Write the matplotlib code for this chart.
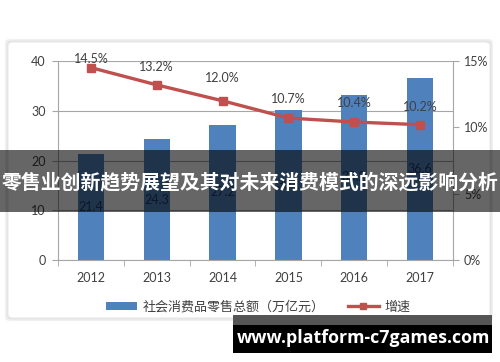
import matplotlib
matplotlib.use("Agg")
import matplotlib.pyplot as plt
from matplotlib.patches import FancyBboxPatch, Rectangle
from matplotlib.lines import Line2D
from matplotlib.ticker import FuncFormatter, FixedLocator

years = ["2012", "2013", "2014", "2015", "2016", "2017"]
sales = [21.4, 24.3, 27.2, 30.1, 33.2, 36.6]
growth = [14.5, 13.2, 12.0, 10.7, 10.4, 10.2]
bar_label = "社会消费品零售总额（万亿元）"
line_label = "增速"
banner = "零售业创新趋势展望及其对未来消费模式的深远影响分析"
watermark = "www.platform-c7games.com"

plt.rcParams['font.family'] = ['Lato', 'Noto Sans CJK SC', 'DejaVu Sans']

W, H = 500, 362
fig = plt.figure(figsize=(5, 3.62), dpi=100)
fig.patch.set_facecolor('white')

def fx(px):
    return px / W

def fy(py):
    return 1 - py / H

# card with soft shadow
for c, d in [('#f0f0f0', 3), ('#e6e6e6', 1.5)]:
    fig.patches.append(FancyBboxPatch((fx(8 - d), fy(318 + d)), fx(482 + 2 * d), (276 + 2 * d) / H,
                                      boxstyle="round,pad=0,rounding_size=0.01",
                                      transform=fig.transFigure, facecolor=c,
                                      edgecolor='none', zorder=0))
fig.patches.append(FancyBboxPatch((fx(8), fy(318)), fx(482), 276 / H,
                                  boxstyle="round,pad=0,rounding_size=0.01",
                                  transform=fig.transFigure, facecolor='white',
                                  edgecolor='#e4e4e4', linewidth=0.6, zorder=0.5))

ax = fig.add_axes([fx(58), fy(260), fx(453 - 58), (260 - 61) / H])
ax.set_facecolor('none')
ax.set_zorder(2)
x = list(range(len(years)))
ax.bar(x, sales, width=0.4, color='#4F81BD', zorder=2)
ax.set_xlim(-0.5, len(years) - 0.5)
ax.set_ylim(0, 40)
ax.set_yticks([0, 10, 20, 30, 40])
ax.yaxis.grid(True, color='#a6a6a6', linewidth=0.8, zorder=0)
ax.set_axisbelow(True)
ax.set_xticks(x)
ax.set_xticklabels(years)
ax.xaxis.set_minor_locator(FixedLocator([i - 0.5 for i in range(len(years) + 1)]))
ax.tick_params(axis='x', which='major', length=0, pad=8.5, labelsize=9, labelcolor='#404040')
ax.tick_params(axis='x', which='minor', length=4, color='#a6a6a6', direction='out')
ax.tick_params(axis='y', length=4, color='#a6a6a6', labelsize=9, labelcolor='#404040', pad=5)
for s in ['top', 'right']:
    ax.spines[s].set_visible(False)
ax.spines['left'].set_color('#a6a6a6')
ax.spines['bottom'].set_color('#a6a6a6')

for xi, v in zip(x, sales):
    ax.text(xi, v / 2, f"{v:.1f}", ha='center', va='center', fontsize=9, color='#1F3864', zorder=4)

ax2 = ax.twinx()
ax2.set_zorder(3)
ax2.set_facecolor('none')
ax2.set_ylim(0, 15)
ax2.set_yticks([0, 5, 10, 15])
ax2.yaxis.set_major_formatter(FuncFormatter(lambda v, p: f"{v:.0f}%"))
ax2.plot(x, growth, color='#C0504D', linewidth=2.4, marker='s', markersize=6,
         markerfacecolor='#C0504D', markeredgecolor='#C0504D', zorder=3)
ax2.tick_params(axis='y', length=4, color='#a6a6a6', labelsize=9, labelcolor='#404040', pad=4)
for s in ['top', 'left', 'bottom']:
    ax2.spines[s].set_visible(False)
ax2.spines['right'].set_color('#a6a6a6')

offsets = [6.5, 13, 16.5, 13.5, 13.5, 13]
for xi, g, o in zip(x, growth, offsets):
    ax2.annotate(f"{g:.1f}%", (xi, g), xytext=(0, o), textcoords='offset points',
                 ha='center', va='center', fontsize=9, color='#404040', zorder=5)

handles = [Rectangle((0, 0), 1, 1, facecolor='#4F81BD'),
           Line2D([0], [0], color='#C0504D', linewidth=2.4, marker='s', markersize=5)]
fig.legend(handles, [bar_label, line_label], loc='center', ncol=2,
           bbox_to_anchor=(fx(258), fy(307)), frameon=False,
           handlelength=2.4, handleheight=0.6, columnspacing=1.8, handletextpad=0.4,
           labelcolor='#404040', prop={'family': ['Noto Sans CJK SC'], 'size': 9.4})

# banner overlay
fig.patches.append(Rectangle((0, fy(212)), 1, 62 / H, transform=fig.transFigure,
                             facecolor='black', alpha=0.6, edgecolor='none', zorder=10))
fig.text(0.5, fy(182), banner, ha='center', va='center', color='white', fontsize=14.3,
         fontweight='bold', family=['Noto Sans CJK SC'], zorder=11)

# watermark
fig.patches.append(Rectangle((fx(233), fy(325)), fx(259), 10 / H, transform=fig.transFigure,
                             facecolor='#555555', edgecolor='none', zorder=10))
fig.patches.append(Rectangle((fx(233), fy(353)), fx(259), 28 / H, transform=fig.transFigure,
                             facecolor='black', edgecolor='none', zorder=10))
fig.text(fx(364), fy(338), watermark, ha='center', va='center', color='white', fontsize=12.8,
         fontweight='bold', family=['Open Sans', 'DejaVu Sans'], zorder=11)

fig.savefig('out.png', dpi=100)
